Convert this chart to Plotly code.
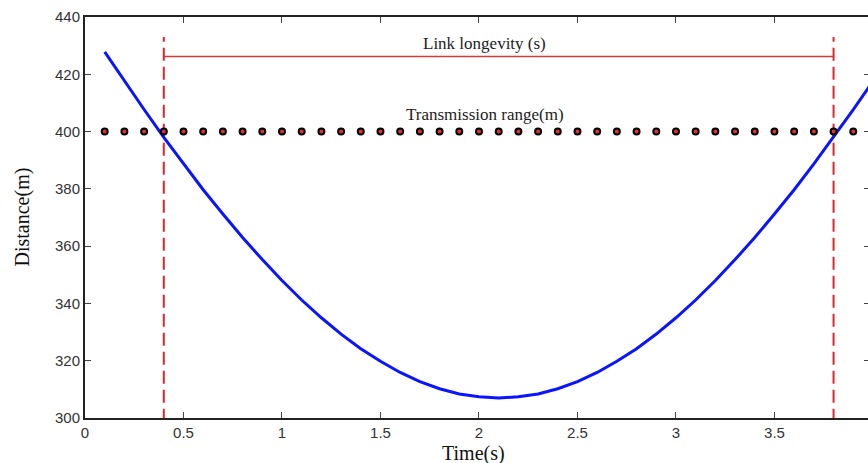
import plotly.graph_objects as go

# Blue distance curve
time_s = [0.1, 0.2, 0.3, 0.4, 0.5, 0.6, 0.7, 0.8, 0.9, 1.0,
          1.1, 1.2, 1.3, 1.4, 1.5, 1.6, 1.7, 1.8, 1.9, 2.0,
          2.1, 2.2, 2.3, 2.4, 2.5, 2.6, 2.7, 2.8, 2.9, 3.0,
          3.1, 3.2, 3.3, 3.4, 3.5, 3.6, 3.7, 3.8, 3.9, 4.0]
distance_m = [427.8, 417.6, 407.7, 398.0, 388.7, 379.7, 371.2, 363.0, 355.3, 348.0,
              341.2, 335.0, 329.3, 324.2, 319.8, 315.9, 312.7, 310.2, 308.4, 307.4,
              307.0, 307.4, 308.4, 310.2, 312.7, 315.9, 319.8, 324.2, 329.3, 335.0,
              341.2, 348.0, 355.3, 363.0, 371.2, 379.7, 388.7, 398.0, 407.7, 417.6]

# Transmission range markers
range_x = [0.1, 0.2, 0.3, 0.4, 0.5, 0.6, 0.7, 0.8, 0.9, 1.0,
           1.1, 1.2, 1.3, 1.4, 1.5, 1.6, 1.7, 1.8, 1.9, 2.0,
           2.1, 2.2, 2.3, 2.4, 2.5, 2.6, 2.7, 2.8, 2.9, 3.0,
           3.1, 3.2, 3.3, 3.4, 3.5, 3.6, 3.7, 3.8, 3.9, 4.0]
range_y = [400] * len(range_x)

# Link longevity bounds
link_start = 0.4
link_end = 3.8
link_level = 426.2
vline_bottom = 298.7
vline_top = 433.0

x_ticks = [0, 0.5, 1, 1.5, 2, 2.5, 3, 3.5]
x_labels = ["0", "0.5", "1", "1.5", "2", "2.5", "3", "3.5"]
y_ticks = [300, 320, 340, 360, 380, 400, 420, 440]

serif = "Liberation Serif, Times New Roman, serif"

fig = go.Figure()

fig.add_trace(go.Scatter(x=[link_start, link_end], y=[link_level, link_level],
                         mode="lines", line=dict(color="#d8383a", width=1.5),
                         hoverinfo="skip", showlegend=False))

for xv in [link_start, link_end]:
    fig.add_trace(go.Scatter(x=[xv, xv], y=[vline_bottom, vline_top], mode="lines",
                             line=dict(color="#e0262b", width=2, dash="13px,6px"),
                             hoverinfo="skip", showlegend=False, cliponaxis=False))

fig.add_trace(go.Scatter(x=time_s, y=distance_m, mode="lines",
                         line=dict(color="#0a14ff", width=3), showlegend=False))

fig.add_trace(go.Scatter(x=range_x, y=range_y, mode="markers",
                         marker=dict(size=6, color="#e23030",
                                     line=dict(color="black", width=2)),
                         showlegend=False))

fig.add_annotation(x=2.03, y=430.9, text="Link longevity (s)", showarrow=False,
                   font=dict(family=serif, size=17, color="#222"))
fig.add_annotation(x=2.03, y=406.0, text="Transmission range(m)", showarrow=False,
                   font=dict(family=serif, size=17, color="#222"))

# Axis titles
fig.add_annotation(xref="paper", yref="paper", x=0.5, y=0, yshift=-35, xshift=-4,
                   text="Time(s)", showarrow=False, xanchor="center", yanchor="middle",
                   font=dict(family=serif, size=20, color="#111"))
fig.add_annotation(xref="paper", yref="paper", x=0, xshift=-63, y=0.5,
                   text="Distance(m)", showarrow=False, textangle=-90,
                   xanchor="center", yanchor="middle",
                   font=dict(family=serif, size=20, color="#111"))

fig.update_layout(
    width=870, height=463,
    margin=dict(l=85, r=0, t=17, b=45),
    paper_bgcolor="white", plot_bgcolor="white",
    font=dict(family="Liberation Sans, Arial, sans-serif", size=15, color="#333"),
)
fig.update_xaxes(range=[0, 3.985], tickvals=x_ticks, ticktext=x_labels,
                 ticks="inside", ticklen=6, tickcolor="#444", tickwidth=1,
                 showline=True, linecolor="#222", linewidth=2, mirror="ticks",
                 showgrid=False, zeroline=False, automargin=False,
                 tickfont=dict(size=15, color="#333"))
fig.update_yaxes(range=[300, 440], tickvals=y_ticks,
                 ticks="inside", ticklen=6, tickcolor="#444", tickwidth=1,
                 showline=True, linecolor="#222", linewidth=2, mirror="ticks",
                 showgrid=False, zeroline=False, automargin=False,
                 tickfont=dict(size=15, color="#333"))

fig.write_html("out.html", config={"displayModeBar": False},
               post_script="document.body.style.margin='0';document.body.style.overflow='hidden';")
